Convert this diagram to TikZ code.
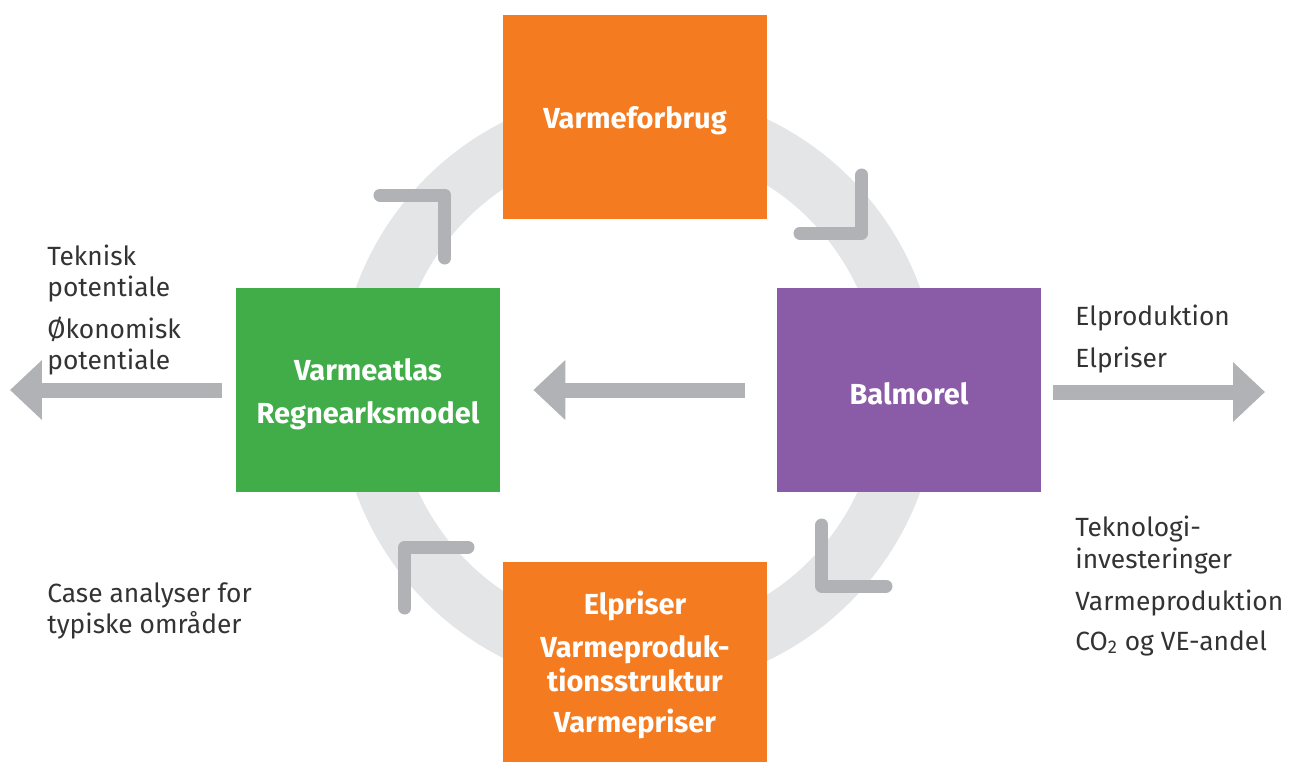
\documentclass[tikz,border=0pt]{standalone}
\usepackage{fontspec}
\setmainfont{Fira Sans}
\usepackage{xcolor}
\usepackage{tikz}
\usetikzlibrary{arrows.meta}
\definecolor{boxorange}{RGB}{244,123,32}
\definecolor{boxgreen}{RGB}{65,173,73}
\definecolor{boxpurple}{RGB}{138,92,167}
\definecolor{arrowgray}{RGB}{177,178,182}
\definecolor{ringgray}{RGB}{228,229,231}
\definecolor{textgray}{RGB}{51,51,51}
\newcommand{\boxstrut}{\rule{0pt}{17pt}}

\begin{document}
\begin{tikzpicture}[
    box/.style={minimum width=5.28cm, minimum height=4.08cm, inner sep=0pt, align=center, text=white, font=\fontsize{16.5}{19.3}\selectfont\bfseries},
    info/.style={anchor=west, inner sep=0pt, align=left, text=textgray, font=\fontsize{15}{17.9}\selectfont},
    bigarrow/.style={arrowgray, line width=0.3cm, -{Triangle[length=0.64cm, width=1.16cm]}},
    corner/.style={arrowgray, line width=0.26cm, line cap=round, line join=round}
]
    \useasboundingbox (-12.76,-7.46) rectangle (13.04,7.8);

    % Ring behind the boxes
    \draw[ringgray, line width=1.16cm] (0,0) circle (5.42);

    % Corner marks on the ring
    \draw[corner] (3.24,3.14) -- (4.48,3.14) -- (4.48,4.3);
    \draw[corner] (-3.86,2.64) -- (-3.86,3.9) -- (-5.16,3.9);
    \draw[corner] (-3.4,-3.14) -- (-4.66,-3.14) -- (-4.66,-4.36);
    \draw[corner] (3.68,-2.7) -- (3.68,-3.92) -- (4.96,-3.92);

    % Boxes
    \node[box, fill=boxorange] (varmeforbrug) at (-0.06,5.46) {\boxstrut Varmeforbrug};
    \node[box, fill=boxgreen] (varmeatlas) at (-5.4,0) {\boxstrut Varmeatlas\\[0.18cm]Regnearksmodel};
    \node[box, fill=boxpurple] (balmorel) at (5.42,0) {\boxstrut Balmorel};
    \node[box, fill=boxorange, minimum height=4cm] (elpriser) at (-0.06,-5.44)
        {\boxstrut Elpriser\\[0.18cm]Varmeproduk-\\tionsstruktur\\[0.14cm]Varmepriser};

    % Big arrows
    \coordinate (lefttip) at (-12.56,0);
    \coordinate (righttip) at (12.54,-0.04);
    \draw[bigarrow, shorten <=0.64cm, shorten >=0.66cm] (balmorel) -- (varmeatlas);
    \draw[bigarrow, shorten <=0.28cm] (varmeatlas.west) -- (lefttip);
    \draw[bigarrow, shorten <=0.24cm] (balmorel.east |- righttip) -- (righttip);

    % Texts beside the boxes
    \node[info] (potentiale) at (-11.82,1.6) {Teknisk\\potentiale\\[0.21cm]Økonomisk\\potentiale};
    \node[info] (cases) at (-11.82,-4.42) {Case analyser for\\typiske områder};
    \node[info] (elproduktion) at (8.74,1.02) {Elproduktion\\[0.21cm]Elpriser};
    \node[info] (teknologi) at (8.74,-3.92)
        {Teknologi-\\investeringer\\[0.21cm]Varmeproduktion\\[0.17cm]CO\textsubscript{2} og VE-andel};

\end{tikzpicture}
\end{document}
